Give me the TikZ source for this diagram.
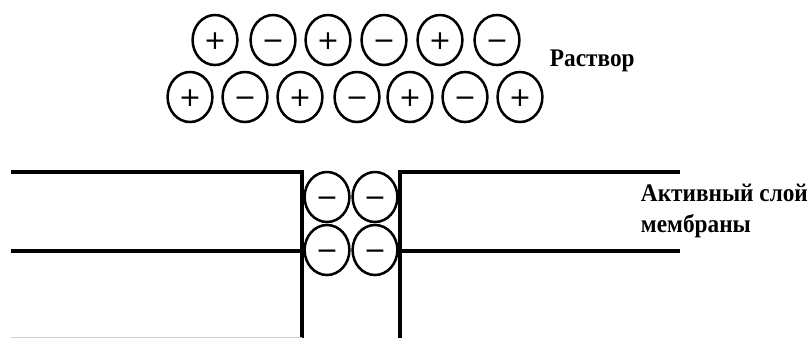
\documentclass[tikz,border=0pt]{standalone}
\usepackage{fontspec}
\setmainfont{Liberation Serif}
\newfontfamily\narrowserif[FakeStretch=0.92]{Liberation Serif}
\newfontfamily\signfont{DejaVu Sans}
\usetikzlibrary{shapes.geometric}

\tikzset{
  ion/.style={draw, ellipse, line width=1.8pt, minimum width=1.12cm,
    minimum height=1.25cm, inner sep=0pt, text height=13pt, text depth=0pt,
    font=\fontsize{19}{19}\signfont},
  wall/.style={line width=2.3pt},
  caption/.style={font=\fontsize{18}{22.7}\narrowserif\bfseries, anchor=west,
    align=left}
}

\begin{document}
\begin{tikzpicture}[x=0.025cm, y=-0.025cm]
\useasboundingbox (0,0) rectangle (812,338);

% ================================================================
%  Ions in the solution (two rows)
% ================================================================
\foreach \xval/\sign [count=\i] in {215/+, 273/−, 328/+, 384/−, 440/+, 497/−}{
    \node[ion] (up\i) at (\xval, 40) {\sign};
}
\foreach \xval/\sign [count=\i] in {190/+, 245/−, 300/+, 357/−, 410/+, 465/−, 520/+}{
    \node[ion] (low\i) at (\xval, 97) {\sign};
}
\node[caption] (solution) at (545, 61) {Раствор};

% ================================================================
%  Membrane with a pore
% ================================================================
\draw[wall] (11, 172) -- (302, 172) -- (302, 338);
\draw[wall] (11, 251) -- (302, 251);
\draw[wall] (680, 172) -- (400, 172) -- (400, 338);
\draw[wall] (400, 251) -- (680, 251);
\draw[gray!40, thin] (11, 337) -- (302, 337);

% Ions held in the pore
\node[ion] (pore1) at (327, 197) {−};
\node[ion] (pore2) at (375, 197) {−};
\node[ion] (pore3) at (327, 250) {−};
\node[ion] (pore4) at (375, 250) {−};

\node[caption] (layer) at (636, 211) {Активный слой\\мембраны};

\end{tikzpicture}
\end{document}
